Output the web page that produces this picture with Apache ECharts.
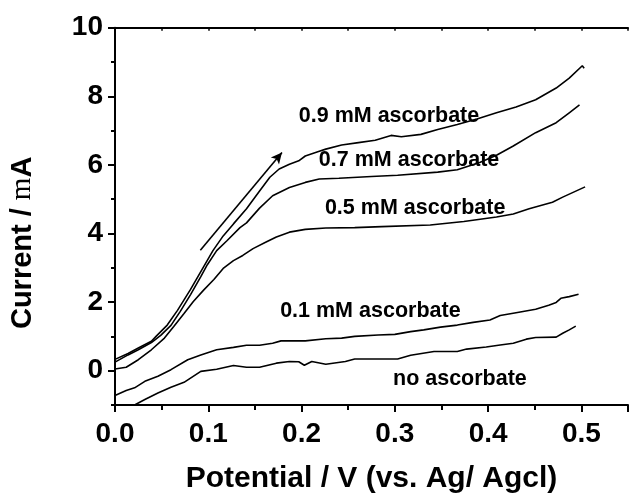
<!DOCTYPE html>
<html>
<head>
<meta charset="utf-8">
<script src="https://cdn.jsdelivr.net/npm/echarts@6/dist/echarts.min.js"></script>
<style>html,body{margin:0;padding:0;background:#fff}#c{width:631px;height:499px}</style>
</head>
<body>
<div id="c"></div>
<script>
// Potential (V) / Current (mA) pairs
var curve09 = [[0.000,0.33],[0.014,0.50],[0.025,0.66],[0.039,0.86],[0.044,1.00],[0.056,1.33],[0.067,1.76],[0.081,2.37],[0.092,2.89],[0.105,3.50],[0.116,3.93],[0.127,4.28],[0.141,4.72],[0.155,5.24],[0.166,5.64],[0.176,5.88],[0.187,6.02],[0.197,6.12],[0.204,6.26],[0.219,6.40],[0.226,6.46],[0.243,6.58],[0.261,6.65],[0.279,6.72],[0.296,6.86],[0.307,6.82],[0.328,6.89],[0.346,7.03],[0.367,7.18],[0.388,7.34],[0.409,7.52],[0.430,7.69],[0.451,7.90],[0.473,8.24],[0.487,8.53],[0.501,8.89],[0.503,8.82]];
var curve07 = [[0.000,0.25],[0.014,0.46],[0.025,0.61],[0.039,0.82],[0.049,1.03],[0.060,1.32],[0.070,1.73],[0.081,2.22],[0.092,2.74],[0.099,3.09],[0.109,3.50],[0.120,3.79],[0.134,4.17],[0.141,4.31],[0.155,4.74],[0.169,5.10],[0.187,5.34],[0.204,5.49],[0.219,5.59],[0.240,5.61],[0.275,5.66],[0.303,5.70],[0.346,5.79],[0.367,5.86],[0.391,6.07],[0.409,6.28],[0.427,6.55],[0.451,6.94],[0.473,7.23],[0.487,7.52],[0.498,7.75]];
var curve05 = [[0.000,0.05],[0.012,0.10],[0.025,0.32],[0.039,0.61],[0.053,0.95],[0.063,1.29],[0.074,1.67],[0.084,2.02],[0.095,2.35],[0.106,2.66],[0.116,2.98],[0.127,3.21],[0.137,3.36],[0.148,3.56],[0.162,3.75],[0.173,3.90],[0.187,4.04],[0.204,4.12],[0.226,4.16],[0.257,4.17],[0.286,4.20],[0.338,4.25],[0.374,4.35],[0.409,4.48],[0.427,4.57],[0.444,4.72],[0.469,4.91],[0.480,5.06],[0.504,5.36]];
var curve01 = [[0.000,-0.72],[0.012,-0.58],[0.021,-0.50],[0.032,-0.31],[0.046,-0.16],[0.060,0.03],[0.078,0.32],[0.092,0.46],[0.109,0.61],[0.127,0.68],[0.141,0.74],[0.155,0.74],[0.169,0.80],[0.178,0.87],[0.204,0.87],[0.226,0.93],[0.243,0.95],[0.257,1.00],[0.282,1.04],[0.300,1.06],[0.317,1.14],[0.331,1.19],[0.349,1.27],[0.367,1.33],[0.384,1.41],[0.402,1.48],[0.413,1.61],[0.430,1.69],[0.451,1.79],[0.465,1.91],[0.473,1.99],[0.478,2.11],[0.487,2.16],[0.497,2.23]];
var curve00 = [[0.021,-1.00],[0.032,-0.84],[0.046,-0.65],[0.060,-0.48],[0.074,-0.34],[0.092,-0.02],[0.109,0.04],[0.127,0.15],[0.141,0.10],[0.155,0.10],[0.173,0.22],[0.187,0.27],[0.197,0.26],[0.203,0.16],[0.211,0.27],[0.226,0.19],[0.247,0.27],[0.257,0.34],[0.303,0.34],[0.317,0.45],[0.342,0.56],[0.367,0.56],[0.377,0.63],[0.398,0.69],[0.413,0.75],[0.427,0.80],[0.441,0.92],[0.451,0.97],[0.473,0.98],[0.480,1.09],[0.487,1.19],[0.494,1.30]];
// annotation labels: [x (left edge), y (centre), text]
var labels = [[0.197,7.41,'0.9 mM ascorbate'],[0.2185,6.14,'0.7 mM ascorbate'],[0.225,4.74,'0.5 mM ascorbate'],[0.177,1.745,'0.1 mM ascorbate'],[0.298,-0.24,'no ascorbate']];
// sweep-direction arrow: start and end
var arrowStart = [0.0915,3.51];
var arrowEnd = [0.179,6.36];
var xTicks = [0,0.1,0.2,0.3,0.4,0.5];
var yMajor = [0,2,4,6,8,10];

var FONT = 'Liberation Sans';
var chart = echarts.init(document.getElementById('c'), null, {renderer:'canvas'});
function curve(d){
  return {type:'line', data:d, showSymbol:false, symbol:'none', silent:true,
    lineStyle:{color:'#000', width:1.6}, clip:true, z:3};
}
var axisLineStyle = {color:'#000', width:2};
chart.setOption({
  animation:false,
  backgroundColor:'#fff',
  grid:{left:113.5, top:27.7, width:519.75, height:379.8, containLabel:false},
  xAxis:[{
    type:'value', min:0, max:0.55, interval:0.1, position:'bottom',
    axisLine:{show:true, onZero:false, lineStyle:axisLineStyle},
    axisTick:{show:true, length:7, lineStyle:axisLineStyle},
    minorTick:{show:true, splitNumber:2, length:5, lineStyle:axisLineStyle},
    splitLine:{show:false},
    axisLabel:{margin:15, color:'#000', fontFamily:FONT, fontWeight:'bold', fontSize:28,
      formatter:function(v){ return xTicks.indexOf(Math.round(v*10)/10)>=0 && Math.abs(v*10-Math.round(v*10))<1e-6 ? v.toFixed(1) : ''; }},
    name:'Potential / V (vs. Ag/ Agcl)', nameLocation:'middle', nameGap:59,
    nameTextStyle:{color:'#000', fontFamily:FONT, fontWeight:'bold', fontSize:30}
  },{
    type:'value', min:0, max:0.55, interval:0.1, position:'top',
    axisLine:{show:true, onZero:false, lineStyle:axisLineStyle},
    axisTick:{show:true, inside:true, length:3, lineStyle:{color:'#000', width:1.5}},
    minorTick:{show:true, splitNumber:2, length:3, lineStyle:{color:'#000', width:1.5}},
    axisLabel:{show:false}, splitLine:{show:false}
  }],
  yAxis:[{
    type:'value', min:-1, max:10, position:'left',
    axisLine:{show:true, onZero:false, lineStyle:axisLineStyle},
    axisTick:{show:true, length:7, lineStyle:axisLineStyle, customValues:yMajor},
    splitLine:{show:false},
    axisLabel:{margin:12, color:'#000', fontFamily:FONT, fontWeight:'bold', fontSize:28, customValues:yMajor},
    name:'{a|Current / }{m|m}{a|A}', nameLocation:'middle', nameGap:78,
    nameTextStyle:{color:'#000', fontFamily:FONT, fontWeight:'bold', fontSize:29, padding:[0,53,0,0],
      rich:{a:{fontFamily:FONT, fontWeight:'bold', fontSize:29, color:'#000'},
            m:{fontFamily:'Liberation Serif', fontWeight:'normal', fontSize:29, color:'#000'}}}
  },{
    type:'value', min:-1, max:10, interval:1, position:'left', offset:0,
    axisLine:{show:false},
    axisTick:{show:true, length:4, lineStyle:axisLineStyle},
    axisLabel:{show:false}, splitLine:{show:false}
  }],
  series:[
    curve(curve09), curve(curve07), curve(curve05), curve(curve01), curve(curve00),
    {type:'scatter', data:labels, symbolSize:0.1, silent:true, z:4, itemStyle:{opacity:1},
      label:{show:true, position:'right', distance:0, color:'#000', opacity:1, fontFamily:FONT, fontWeight:'bold', fontSize:21.5,
        formatter:function(p){ return p.data[2]; }}},
    {type:'line', data:[], silent:true,
      markLine:{silent:true, symbol:['none','arrow'], symbolSize:[8,11], label:{show:false},
        lineStyle:{color:'#000', width:1.6, type:'solid'},
        data:[[{coord:arrowStart},{coord:arrowEnd}]]}}
  ]
});
</script>
</body>
</html>
